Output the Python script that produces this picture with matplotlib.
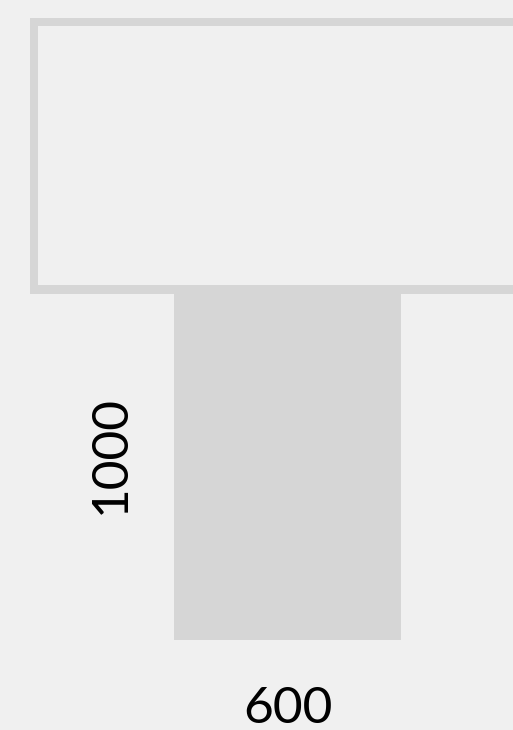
import matplotlib
matplotlib.use("Agg")
import matplotlib.pyplot as plt
from matplotlib.patches import Rectangle

# Data
dims_labels = ["600", "1000"]
width_value = 600
height_value = 1000

BG = "#f0f0f0"
GRAY = "#d6d6d6"

W, H = 513, 730
fig = plt.figure(figsize=(W / 100, H / 100), dpi=100, facecolor=BG)
ax = fig.add_axes([0, 0, 1, 1])
ax.set_facecolor(BG)
ax.axis("off")

# scale: map data to pixel layout
x0_px, x1_px = 174, 401
y0_px, y1_px = 640, 294
sx = (x1_px - x0_px) / width_value
sy = (y0_px - y1_px) / height_value

def dx(px):
    return (px - x0_px) / sx

def dy(py):
    return (y0_px - py) / sy

ax.set_xlim(dx(0), dx(W))
ax.set_ylim(dy(H), dy(0))

# top outline frame
ax.add_patch(Rectangle((dx(30), dy(294)), dx(530) - dx(30), dy(18) - dy(294),
                       facecolor=GRAY, edgecolor="none"))
ax.add_patch(Rectangle((dx(38), dy(285)), dx(530) - dx(38), dy(26) - dy(285),
                       facecolor=BG, edgecolor="none"))

# main rectangle
ax.add_patch(Rectangle((0, 0), width_value, height_value, facecolor=GRAY, edgecolor="none"))

font = ["Lato", "DejaVu Sans"]
ax.text(width_value / 2, dy(709), dims_labels[0], ha="center", va="center",
        fontsize=37, family=font, color="black")
ax.text(dx(111), dy(454), dims_labels[1], ha="center", va="center",
        rotation=90, fontsize=37, family=font, color="black")

fig.savefig("out.png", dpi=100, facecolor=BG)
